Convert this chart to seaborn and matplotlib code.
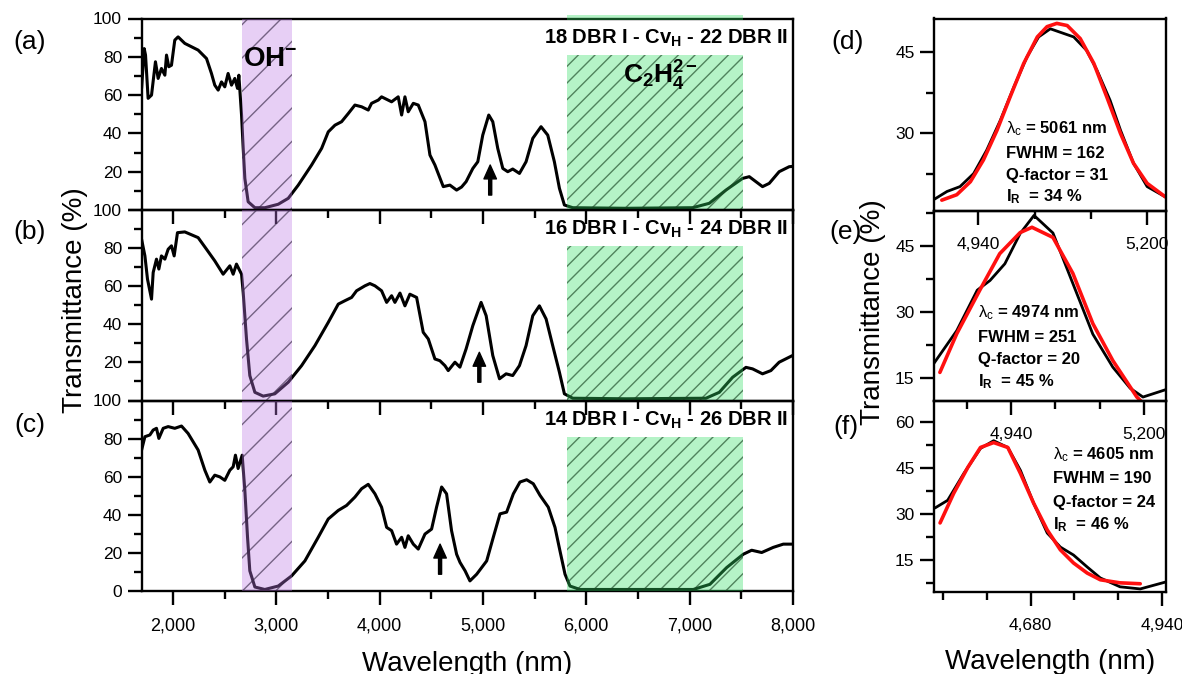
import matplotlib
matplotlib.use("Agg")
import matplotlib.pyplot as plt
import seaborn as sns
from matplotlib.ticker import MultipleLocator, FixedLocator, FuncFormatter
from matplotlib.patches import Rectangle

# ---------------- data ----------------
wl_a = [1697, 1722, 1735, 1760, 1793, 1831, 1857, 1889, 1922, 1938, 1960, 1986, 2018, 2050, 2115,
        2244, 2325, 2373, 2405, 2438, 2470, 2502, 2534, 2567, 2599, 2625, 2638, 2664, 2680, 2696,
        2728, 2793, 2890, 3019, 3116, 3213, 3342, 3439, 3503, 3568, 3632, 3697, 3761, 3826, 3890,
        3922, 3987, 4019, 4116, 4180, 4213, 4245, 4277, 4326, 4374, 4439, 4487, 4535, 4616, 4680,
        4745, 4793, 4837, 4902, 4950, 4998, 5056, 5095, 5143, 5192, 5240, 5288, 5353, 5417, 5482,
        5562, 5627, 5691, 5740, 5788, 5869, 6385, 7029, 7190, 7351, 7512, 7577, 7641, 7705, 7770,
        7866, 7963, 8000]
tr_a = [63.5, 84.3, 80.9, 58.3, 60.0, 77.4, 68.7, 73.9, 70.4, 80.9, 74.8, 75.6, 88.7, 90.4, 87.0,
        83.5, 79.1, 71.3, 65.2, 62.6, 66.9, 64.3, 71.3, 65.2, 68.7, 63.5, 70.4, 49.6, 32.2, 16.5,
        4.3, 1.2, 1.2, 3.0, 6.1, 13.0, 23.5, 32.2, 40.8, 44.3, 46.1, 50.4, 54.8, 53.9, 52.2,
        55.7, 57.4, 59.1, 56.5, 59.1, 49.6, 59.1, 51.3, 55.7, 54.8, 46.1, 28.7, 23.5, 12.2, 13.0,
        10.4, 12.0, 14.8, 21.7, 25.2, 39.1, 49.6, 46.1, 32.2, 21.7, 20.0, 21.4, 19.1, 25.2, 37.4,
        43.5, 39.1, 25.2, 11.3, 2.6, 1.2, 0.9, 1.2, 3.5, 10.4, 16.5, 17.4, 14.8, 12.2, 13.9,
        20.0, 22.6, 22.8]

wl_b = [1697, 1729, 1754, 1793, 1809, 1841, 1864, 1889, 1922, 1954, 1986, 2012, 2044, 2115, 2244,
        2325, 2405, 2486, 2551, 2583, 2615, 2664, 2680, 2712, 2744, 2793, 2873, 2986, 3116, 3245,
        3374, 3503, 3600, 3665, 3729, 3777, 3858, 3906, 3955, 4019, 4068, 4116, 4148, 4197, 4245,
        4293, 4358, 4422, 4471, 4535, 4583, 4632, 4664, 4729, 4777, 4837, 4902, 4982, 5031, 5095,
        5160, 5224, 5288, 5353, 5417, 5482, 5546, 5611, 5675, 5740, 5788, 5869, 6385, 7158, 7287,
        7416, 7545, 7609, 7705, 7786, 7866, 7995]
tr_b = [84.6, 75.9, 63.7, 53.2, 67.2, 74.2, 69.0, 75.9, 74.2, 79.4, 81.2, 75.9, 88.1, 88.5, 85.5,
        79.4, 73.3, 66.3, 70.7, 66.3, 71.6, 66.3, 56.7, 32.3, 13.1, 4.3, 2.3, 3.5, 9.6, 18.3,
        28.8, 41.0, 50.6, 52.4, 54.1, 57.6, 60.2, 61.4, 60.2, 57.6, 51.5, 55.0, 51.5, 56.4, 49.7,
        55.8, 54.1, 35.8, 32.3, 21.8, 20.9, 18.3, 15.7, 20.1, 17.5, 27.1, 39.3, 51.5, 44.5, 23.6,
        11.4, 14.0, 13.1, 18.3, 28.8, 44.5, 49.7, 42.8, 28.8, 14.8, 3.5, 1.2, 0.9, 1.2, 4.3,
        12.2, 17.4, 16.6, 14.0, 15.7, 20.1, 23.6]

wl_c = [1697, 1729, 1777, 1809, 1841, 1864, 1906, 1954, 2018, 2083, 2147, 2244, 2309, 2357, 2405,
        2454, 2502, 2551, 2583, 2605, 2631, 2670, 2696, 2722, 2744, 2793, 2889, 3019, 3148, 3277,
        3406, 3503, 3600, 3680, 3761, 3826, 3890, 3955, 4019, 4068, 4116, 4164, 4213, 4245, 4277,
        4326, 4374, 4439, 4503, 4551, 4600, 4648, 4696, 4745, 4778, 4827, 4874, 4939, 5036, 5100,
        5165, 5229, 5294, 5358, 5423, 5487, 5552, 5632, 5697, 5745, 5794, 5842, 5939, 7035, 7196,
        7358, 7519, 7600, 7697, 7809, 7906, 8000]
tr_c = [74.0, 81.0, 81.9, 84.5, 85.4, 80.1, 85.4, 86.3, 85.4, 86.6, 82.7, 74.0, 63.4, 57.2, 60.8,
        59.9, 58.1, 63.4, 65.2, 71.3, 64.3, 71.3, 52.8, 28.2, 10.6, 2.1, 0.8, 2.6, 7.9, 15.8,
        28.2, 37.8, 42.3, 44.9, 49.3, 53.7, 56.0, 51.0, 44.0, 33.4, 31.7, 24.6, 28.2, 22.9, 29.0,
        24.6, 22.0, 29.9, 32.5, 44.0, 54.6, 51.0, 31.7, 19.3, 15.0, 10.6, 5.3, 8.8, 15.8, 28.2,
        40.5, 41.4, 51.0, 57.2, 58.4, 56.3, 50.2, 44.0, 33.4, 21.1, 8.8, 2.6, 0.8, 0.8, 3.5,
        12.3, 19.3, 21.4, 20.2, 22.9, 24.6, 24.6]

# right panels: measured (black) and Gaussian fit (red)
wl_d = [4873, 4892, 4912, 4933, 4953, 4974, 4995, 5015, 5033, 5051, 5087, 5107, 5123, 5143, 5159,
        5179, 5200, 5228]
ex_d = [17.9, 19.3, 20.2, 22.6, 26.9, 32.4, 38.6, 44.1, 47.8, 49.3, 47.8, 45.3, 41.6, 36.1, 30.6,
        24.5, 20.2, 18.3]
fwl_d = [4884, 4907, 4928, 4948, 4969, 4989, 5010, 5031, 5046, 5061, 5077, 5097, 5118, 5138, 5159,
         5179, 5200, 5228]
fit_d = [17.7, 18.7, 21.1, 25.1, 30.6, 36.7, 42.9, 47.8, 49.7, 50.3, 49.9, 47.5, 42.9, 36.7, 30.0,
         24.5, 20.8, 18.3]

wl_e = [4789, 4834, 4874, 4899, 4928, 4958, 4985, 5022, 5061, 5100, 5139, 5173, 5198, 5243]
ex_e = [18.3, 25.8, 35.0, 37.2, 41.0, 47.9, 52.0, 48.0, 36.5, 25.0, 17.5, 12.7, 10.7, 12.4]
fwl_e = [4801, 4834, 4879, 4918, 4958, 4981, 5022, 5061, 5100, 5139, 5186, 5194]
fit_e = [16.3, 25.1, 35.0, 43.3, 48.1, 49.3, 47.0, 38.8, 27.4, 19.0, 10.7, 9.8]

wl_f = [4491, 4516, 4548, 4581, 4607, 4635, 4660, 4686, 4713, 4739, 4765, 4792, 4818, 4857, 4897,
        4948]
ex_f = [32.0, 34.5, 43.3, 51.5, 54.0, 51.8, 44.3, 33.6, 23.8, 19.2, 16.6, 12.7, 9.1, 6.2, 5.5, 7.8]
fwl_f = [4501, 4528, 4556, 4581, 4607, 4635, 4660, 4686, 4713, 4739, 4765, 4792, 4818, 4857, 4897]
fit_f = [27.1, 36.8, 45.3, 51.8, 53.4, 51.8, 43.3, 33.6, 24.8, 18.3, 14.0, 10.7, 8.5, 7.5, 7.2]

titles = ["18 DBR I - Cv$_\\mathbf{H}$ - 22 DBR II",
          "16 DBR I - Cv$_\\mathbf{H}$ - 24 DBR II",
          "14 DBR I - Cv$_\\mathbf{H}$ - 26 DBR II"]
arrow_x = [5070, 4965, 4585]
arrow_y = [(7.8, 23.5), (9.6, 25.3), (8.8, 24.6)]
fit_texts = [["5061", "162", "31", "34"], ["4974", "251", "20", "45"], ["4605", "190", "24", "46"]]

# ---------------- style ----------------
sns.set_style("ticks")
plt.rcParams["font.family"] = ["Liberation Sans", "DejaVu Sans"]
plt.rcParams["mathtext.fontset"] = "custom"
plt.rcParams["mathtext.rm"] = "Liberation Sans"
plt.rcParams["mathtext.it"] = "Liberation Sans:italic"
plt.rcParams["mathtext.bf"] = "Liberation Sans:bold"
plt.rcParams["hatch.linewidth"] = 1.0
for k in ["text.color", "axes.labelcolor", "xtick.color", "ytick.color", "axes.edgecolor"]:
    plt.rcParams[k] = "black"

W, H = 1182, 674
fig = plt.figure(figsize=(W / 100, H / 100), dpi=100)


def box(l, t, r, b):
    return [l / W, 1 - b / H, (r - l) / W, (b - t) / H]


ax_a = fig.add_axes(box(141.5, 18.5, 793, 210))
ax_b = fig.add_axes(box(141.5, 210, 793, 400.5))
ax_c = fig.add_axes(box(141.5, 400.5, 793, 591))
ax_d = fig.add_axes(box(934, 18.5, 1166, 211))
ax_e = fig.add_axes(box(934, 211, 1166, 401))
ax_f = fig.add_axes(box(934, 401, 1166, 592))

comma = FuncFormatter(lambda v, p: f"{v:,.0f}")


def style_axes(ax, lsize=13):
    ax.set_facecolor("none")
    for s in ax.spines.values():
        s.set_linewidth(1.7)
        s.set_color("black")
        s.set_visible(True)
    ax.tick_params(which="major", direction="out", length=10, width=1.7, labelsize=lsize,
                   color="black", labelcolor="black", pad=4)
    ax.tick_params(which="minor", direction="out", length=5.5, width=1.7, color="black")
    ax.set_xlabel("")
    ax.set_ylabel("")


purple_fill = (0.74, 0.48, 0.90, 0.36)
purple_hatch = (0.22, 0.16, 0.28, 0.65)
green_fill = (0.20, 0.87, 0.40, 0.36)
green_hatch = (0.10, 0.28, 0.14, 0.65)

main = [(ax_a, wl_a, tr_a), (ax_b, wl_b, tr_b), (ax_c, wl_c, tr_c)]
for i, (ax, wl, tr) in enumerate(main):
    sns.lineplot(x=wl, y=tr, ax=ax, color="black", lw=2.2, sort=False, estimator=None)
    ax.set_xlim(1696, 8000)
    ax.set_ylim(0, 100)
    # OH- band
    ax.add_patch(Rectangle((2673, 0), 3151 - 2673, 100, facecolor=purple_fill, edgecolor="none",
                           lw=0, zorder=3))
    ax.add_patch(Rectangle((2673, 0), 3151 - 2673, 100, facecolor="none", edgecolor=purple_hatch,
                           hatch="/", lw=0, zorder=3))
    # C2H4 2- band
    ax.add_patch(Rectangle((5810, 0), 7518 - 5810, 81, facecolor=green_fill, edgecolor="none",
                           lw=0, zorder=3))
    ax.add_patch(Rectangle((5810, 0), 7518 - 5810, 81, facecolor="none", edgecolor=green_hatch,
                           hatch="//", lw=0, zorder=3))
    style_axes(ax, 12.5)
    ax.xaxis.set_major_locator(MultipleLocator(1000))
    ax.xaxis.set_minor_locator(MultipleLocator(500))
    ax.xaxis.set_major_formatter(comma)
    ax.set_yticks([0, 20, 40, 60, 80, 100])
    ax.yaxis.set_minor_locator(MultipleLocator(10))
    if i < 2:
        ax.set_yticklabels(["", "20", "40", "60", "80", "100"])
        ax.tick_params(axis="x", labelbottom=False)
    else:
        ax.set_yticklabels(["0", "20", "40", "60", "80", "100"])
    ax.text(0.9923, 0.898, titles[i], transform=ax.transAxes, ha="right", va="center",
            fontsize=14.5, fontweight="bold", zorder=6)
    ax.annotate("", xy=(arrow_x[i], arrow_y[i][1]), xytext=(arrow_x[i], arrow_y[i][0]),
                arrowprops=dict(facecolor="black", edgecolor="black", width=2.2, headwidth=9,
                                headlength=10, shrink=0), zorder=6)

ax_c.tick_params(axis="x", pad=9, labelsize=13)

ax_a.text(2680, 79, r"$\mathbf{OH^{-}}$", fontsize=20, ha="left", va="center", zorder=6)
ax_a.text(6355, 70, r"$\mathbf{C_2H_4^{2-}}$", fontsize=19, ha="left", va="center", zorder=6)
ax_a.add_patch(Rectangle((5810, 99.0), 7518 - 5810, 2.6, facecolor=green_fill, edgecolor="none",
                         lw=0, zorder=5, clip_on=False))

# right panels
right = [
    (ax_d, wl_d, ex_d, fwl_d, fit_d, (4872, 5229), (15.7, 51.2), [30, 45], (0.31, [0.43, 0.30, 0.187, 0.073])),
    (ax_e, wl_e, ex_e, fwl_e, fit_e, (4789.5, 5243), (9.8, 53.0), [15, 30, 45], (0.19, [0.463, 0.332, 0.216, 0.10])),
    (ax_f, wl_f, ex_f, fwl_f, fit_f, (4489, 4948), (4.5, 67.0), [15, 30, 45, 60], (0.513, [0.717, 0.592, 0.466, 0.351])),
]
for j, (ax, wl, ex, fwl, fit, xl, yl, yt, (tx, tys)) in enumerate(right):
    sns.lineplot(x=wl, y=ex, ax=ax, color="black", lw=2.0, sort=False, estimator=None)
    sns.lineplot(x=fwl, y=fit, ax=ax, color="#ff1010", lw=2.6, sort=False, estimator=None)
    ax.set_xlim(*xl)
    ax.set_ylim(*yl)
    style_axes(ax, 12.5)
    ax.xaxis.set_major_locator(FixedLocator([4420, 4680, 4940, 5200]))
    ax.xaxis.set_minor_locator(MultipleLocator(260 / 3))
    ax.xaxis.set_major_formatter(comma)
    ax.yaxis.set_major_locator(FixedLocator(yt))
    ax.yaxis.set_minor_locator(MultipleLocator(7.5))
    ax.set_yticklabels([str(v) for v in yt])
    ax.tick_params(axis="x", pad=9)
    lam, fw, q, ir = fit_texts[j]
    lines = [r"$\mathrm{\lambda_c}$ = " + lam + " nm", "FWHM = " + fw, "Q-factor = " + q,
             r"I$_\mathbf{R}$  = " + ir + " %"]
    for ty, s in zip(tys, lines):
        ax.text(tx, ty, s, transform=ax.transAxes, ha="left", va="center", fontsize=12,
                fontweight="bold", zorder=6)

# labels
fig.text(467 / W, 1 - 664 / H, "Wavelength (nm)", fontsize=20, ha="center", va="center")
fig.text(1050 / W, 1 - 662 / H, "Wavelength (nm)", fontsize=20, ha="center", va="center")
fig.text(75 / W, 1 - 300 / H, "Transmittance (%)", fontsize=20, ha="center", va="center",
         rotation=90)
fig.text(873 / W, 1 - 312 / H, "Transmittance (%)", fontsize=20, ha="center", va="center",
         rotation=90)
for lab, x, y in [("(a)", 30, 42), ("(b)", 30, 232), ("(c)", 30, 425),
                  ("(d)", 848, 42), ("(e)", 846, 232), ("(f)", 846, 427)]:
    fig.text(x / W, 1 - y / H, lab, fontsize=19, ha="center", va="center")

fig.savefig("out.png", dpi=100)
